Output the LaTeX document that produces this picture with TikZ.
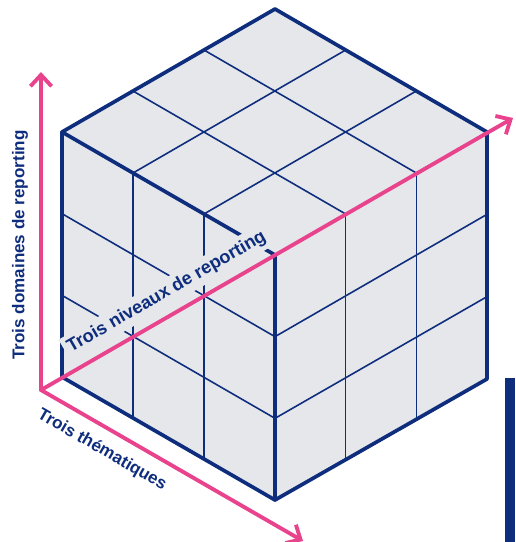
\documentclass[tikz,border=0pt]{standalone}
\usepackage{fontspec}
\setmainfont{Liberation Sans}
\usetikzlibrary{arrows.meta,calc}
\definecolor{navy}{RGB}{14,45,125}
\definecolor{rose}{RGB}{232,67,140}
\definecolor{cubegray}{RGB}{229,231,235}
\begin{document}
\begin{tikzpicture}[x=0.02cm,y=-0.02cm,
  cubeedge/.style={navy,line width=2.1pt,line join=round,line cap=round},
  gridline/.style={navy,line width=0.9pt},
  axisarrow/.style={rose,line width=2.2pt,line cap=round,-{Straight Barb[length=6.5pt,width=12pt]}},
  axistext/.style={navy,font=\fontsize{9.7}{11}\selectfont\bfseries}]
\useasboundingbox (0,0) rectangle (515,542);
\coordinate (L) at (62,132);
\coordinate (T) at (275,9);
\coordinate (R) at (487,132);
\coordinate (F) at (275,255);
\coordinate (LB) at (62,377);
\coordinate (FB) at (275,500);
\coordinate (RB) at (487,379);
\fill[cubegray] (L) -- (T) -- (R) -- (RB) -- (FB) -- (LB) -- cycle;
\foreach \i in {1,2} {
  \draw[gridline] ($(L)!\i/3!(F)$) -- ($(T)!\i/3!(R)$);
  \draw[gridline] ($(L)!\i/3!(T)$) -- ($(F)!\i/3!(R)$);
  \draw[gridline] ($(L)!\i/3!(F)$) -- ($(LB)!\i/3!(FB)$);
  \draw[gridline] ($(L)!\i/3!(LB)$) -- ($(F)!\i/3!(FB)$);
  \draw[gridline] ($(F)!\i/3!(R)$) -- ($(FB)!\i/3!(RB)$);
  \draw[gridline] ($(F)!\i/3!(FB)$) -- ($(R)!\i/3!(RB)$);
}
\draw[cubeedge] (LB) -- (L) -- (T) -- (R) -- (RB) -- (FB) -- cycle;
\draw[cubeedge] (L) -- (F) -- (FB);
\node[axistext,font=\fontsize{10.3}{12}\selectfont\bfseries,fill=cubegray,rotate=30,anchor=base west,inner sep=2.5pt] (niveaux) at (67,355) {Trois niveaux de reporting};
\coordinate (O) at (41,390);
\coordinate (haut) at (41,72);
\coordinate (bas) at (303,541);
\coordinate (fond) at (513,118);
\draw[axisarrow] (O) -- (haut);
\draw[axisarrow] (O) -- (bas);
\draw[axisarrow] (O) -- (fond);
\node[axistext,rotate=90] (domaines) at (20,245) {Trois domaines de reporting};
\node[axistext,rotate=-30] (thematiques) at (102,450) {Trois thématiques};
\fill[navy] (505,378) rectangle (515,542);
\end{tikzpicture}
\end{document}
